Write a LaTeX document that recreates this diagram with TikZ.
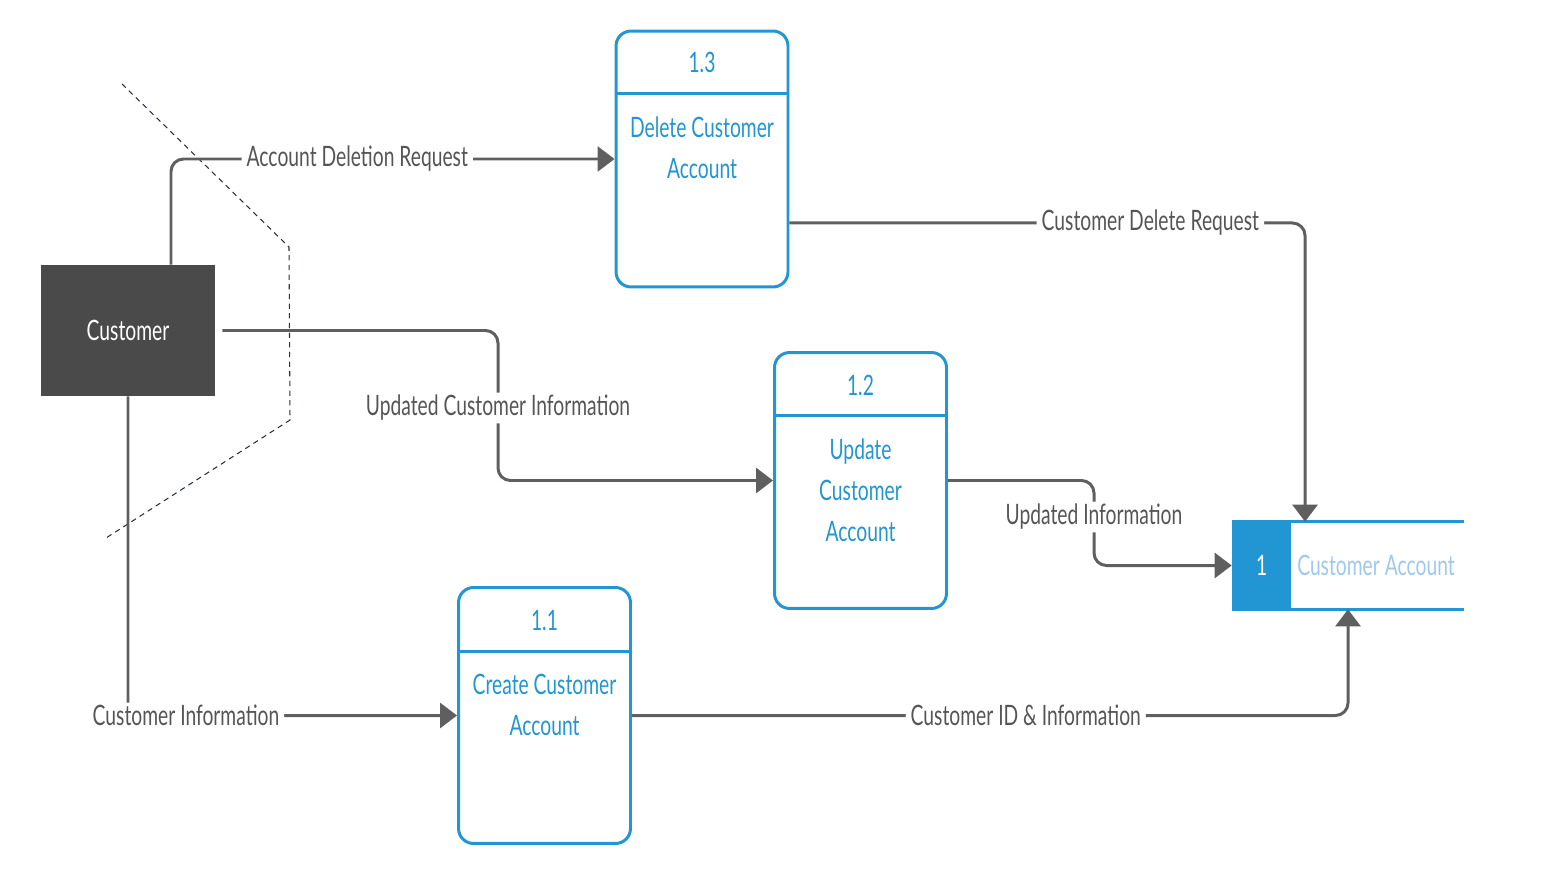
\documentclass[tikz,border=0pt]{standalone}
\usepackage{fontspec}
\setmainfont[FakeStretch=0.685]{Lato}
\usetikzlibrary{arrows.meta,positioning,calc}

\definecolor{procblue}{RGB}{33,150,210}
\definecolor{flowgray}{RGB}{95,95,95}
\definecolor{textgray}{RGB}{85,85,85}
\definecolor{storetext}{RGB}{160,200,235}
\definecolor{custfill}{RGB}{74,74,74}
\definecolor{edgenavy}{RGB}{40,48,70}

\begin{document}
\begin{tikzpicture}[x=0.02cm, y=-0.02cm,
  entity/.style={fill=custfill, minimum width=3.48cm, minimum height=2.62cm, text=white, font=\fontsize{16}{19}\selectfont},
  proc/.style={draw=procblue, line width=1.7pt, rounded corners=0.3cm, minimum width=3.44cm, minimum height=5.12cm, fill=white},
  pnum/.style={text=procblue, font=\fontsize{16}{19}\selectfont},
  ptext/.style={text=procblue, align=center, font=\fontsize{16}{23.3}\selectfont},
  flow/.style={draw=flowgray, line width=1.7pt, rounded corners=0.25cm, -{Triangle[length=0.34cm, width=0.5cm]}},
  lbl/.style={fill=white, text=textgray, inner xsep=0.1cm, inner ysep=0.05cm, font=\fontsize{16}{19}\selectfont},
  boundary/.style={draw=edgenavy, line width=0.6pt, dash pattern=on 3pt off 2.5pt}
]
\useasboundingbox (0,0) rectangle (1550,868);
% system boundary
\draw[boundary] (122,84) -- (289,247) -- (290,420) -- (106,538);
% external entity
\node[entity] (cust) at (128,330.5) {Customer};
% process 1.3
\node[proc] (p13) at (702,159) {};
\draw[procblue, line width=1.7pt] ([yshift=-1.28cm]p13.north west) -- ([yshift=-1.28cm]p13.north east);
\node[pnum] (p13num) at ([yshift=-0.66cm]p13.north) {1.3};
\node[ptext] (p13txt) at ([yshift=-2.37cm]p13.north) {Delete Customer\\Account};
% process 1.2
\node[proc] (p12) at (860.5,480.5) {};
\draw[procblue, line width=1.7pt] ([yshift=-1.28cm]p12.north west) -- ([yshift=-1.28cm]p12.north east);
\node[pnum] (p12num) at ([yshift=-0.68cm]p12.north) {1.2};
\node[ptext] (p12txt) at ([yshift=-2.78cm]p12.north) {Update\\Customer\\Account};
% process 1.1
\node[proc] (p11) at (544.5,715.5) {};
\draw[procblue, line width=1.7pt] ([yshift=-1.3cm]p11.north west) -- ([yshift=-1.3cm]p11.north east);
\node[pnum] (p11num) at ([yshift=-0.68cm]p11.north) {1.1};
\node[ptext] (p11txt) at ([yshift=-2.38cm]p11.north) {Create Customer\\Account};
% data store
\node[minimum width=4.64cm, minimum height=1.74cm, inner sep=0] (store) at (1348,565.5) {};
\fill[procblue] (store.north west) rectangle ([xshift=1.18cm]store.south west);
\draw[procblue, line width=2pt] (store.north west) -- (store.north east);
\draw[procblue, line width=2pt] (store.south west) -- (store.south east);
\node[text=white, font=\fontsize{16}{19}\selectfont] (storenum) at ($(store.west)+(30,0)$) {1};
\node[text=storetext, font=\fontsize{16}{19}\selectfont] (storename) at ([xshift=0.56cm]store.center) {Customer Account};
% data flows
\coordinate (bend2) at (498,408);
\coordinate (bend5) at (1094,517);
\draw[flow] ([xshift=0.86cm]cust.north) |- node[lbl, pos=0.71] {Account Deletion Request} (p13.west);
\draw[flow] ([xshift=0.14cm]cust.east) -| (bend2) node[lbl] {Updated Customer Information} |- (p12.west);
\draw[flow] (cust.south) |- node[lbl, pos=0.5, xshift=1.16cm] {Customer Information} (p11.west);
\draw[flow] ([yshift=-1.28cm]p13.east) -| node[lbl, pos=0.35] {Customer Delete Request} ([xshift=-0.86cm]store.north);
\draw[flow] (p12.east) -| (bend5) node[lbl] {Updated Information} |- (store.west);
\draw[flow] (p11.east) -| node[lbl, pos=0.275] {Customer ID \& Information} (store.south);
\end{tikzpicture}
\end{document}
